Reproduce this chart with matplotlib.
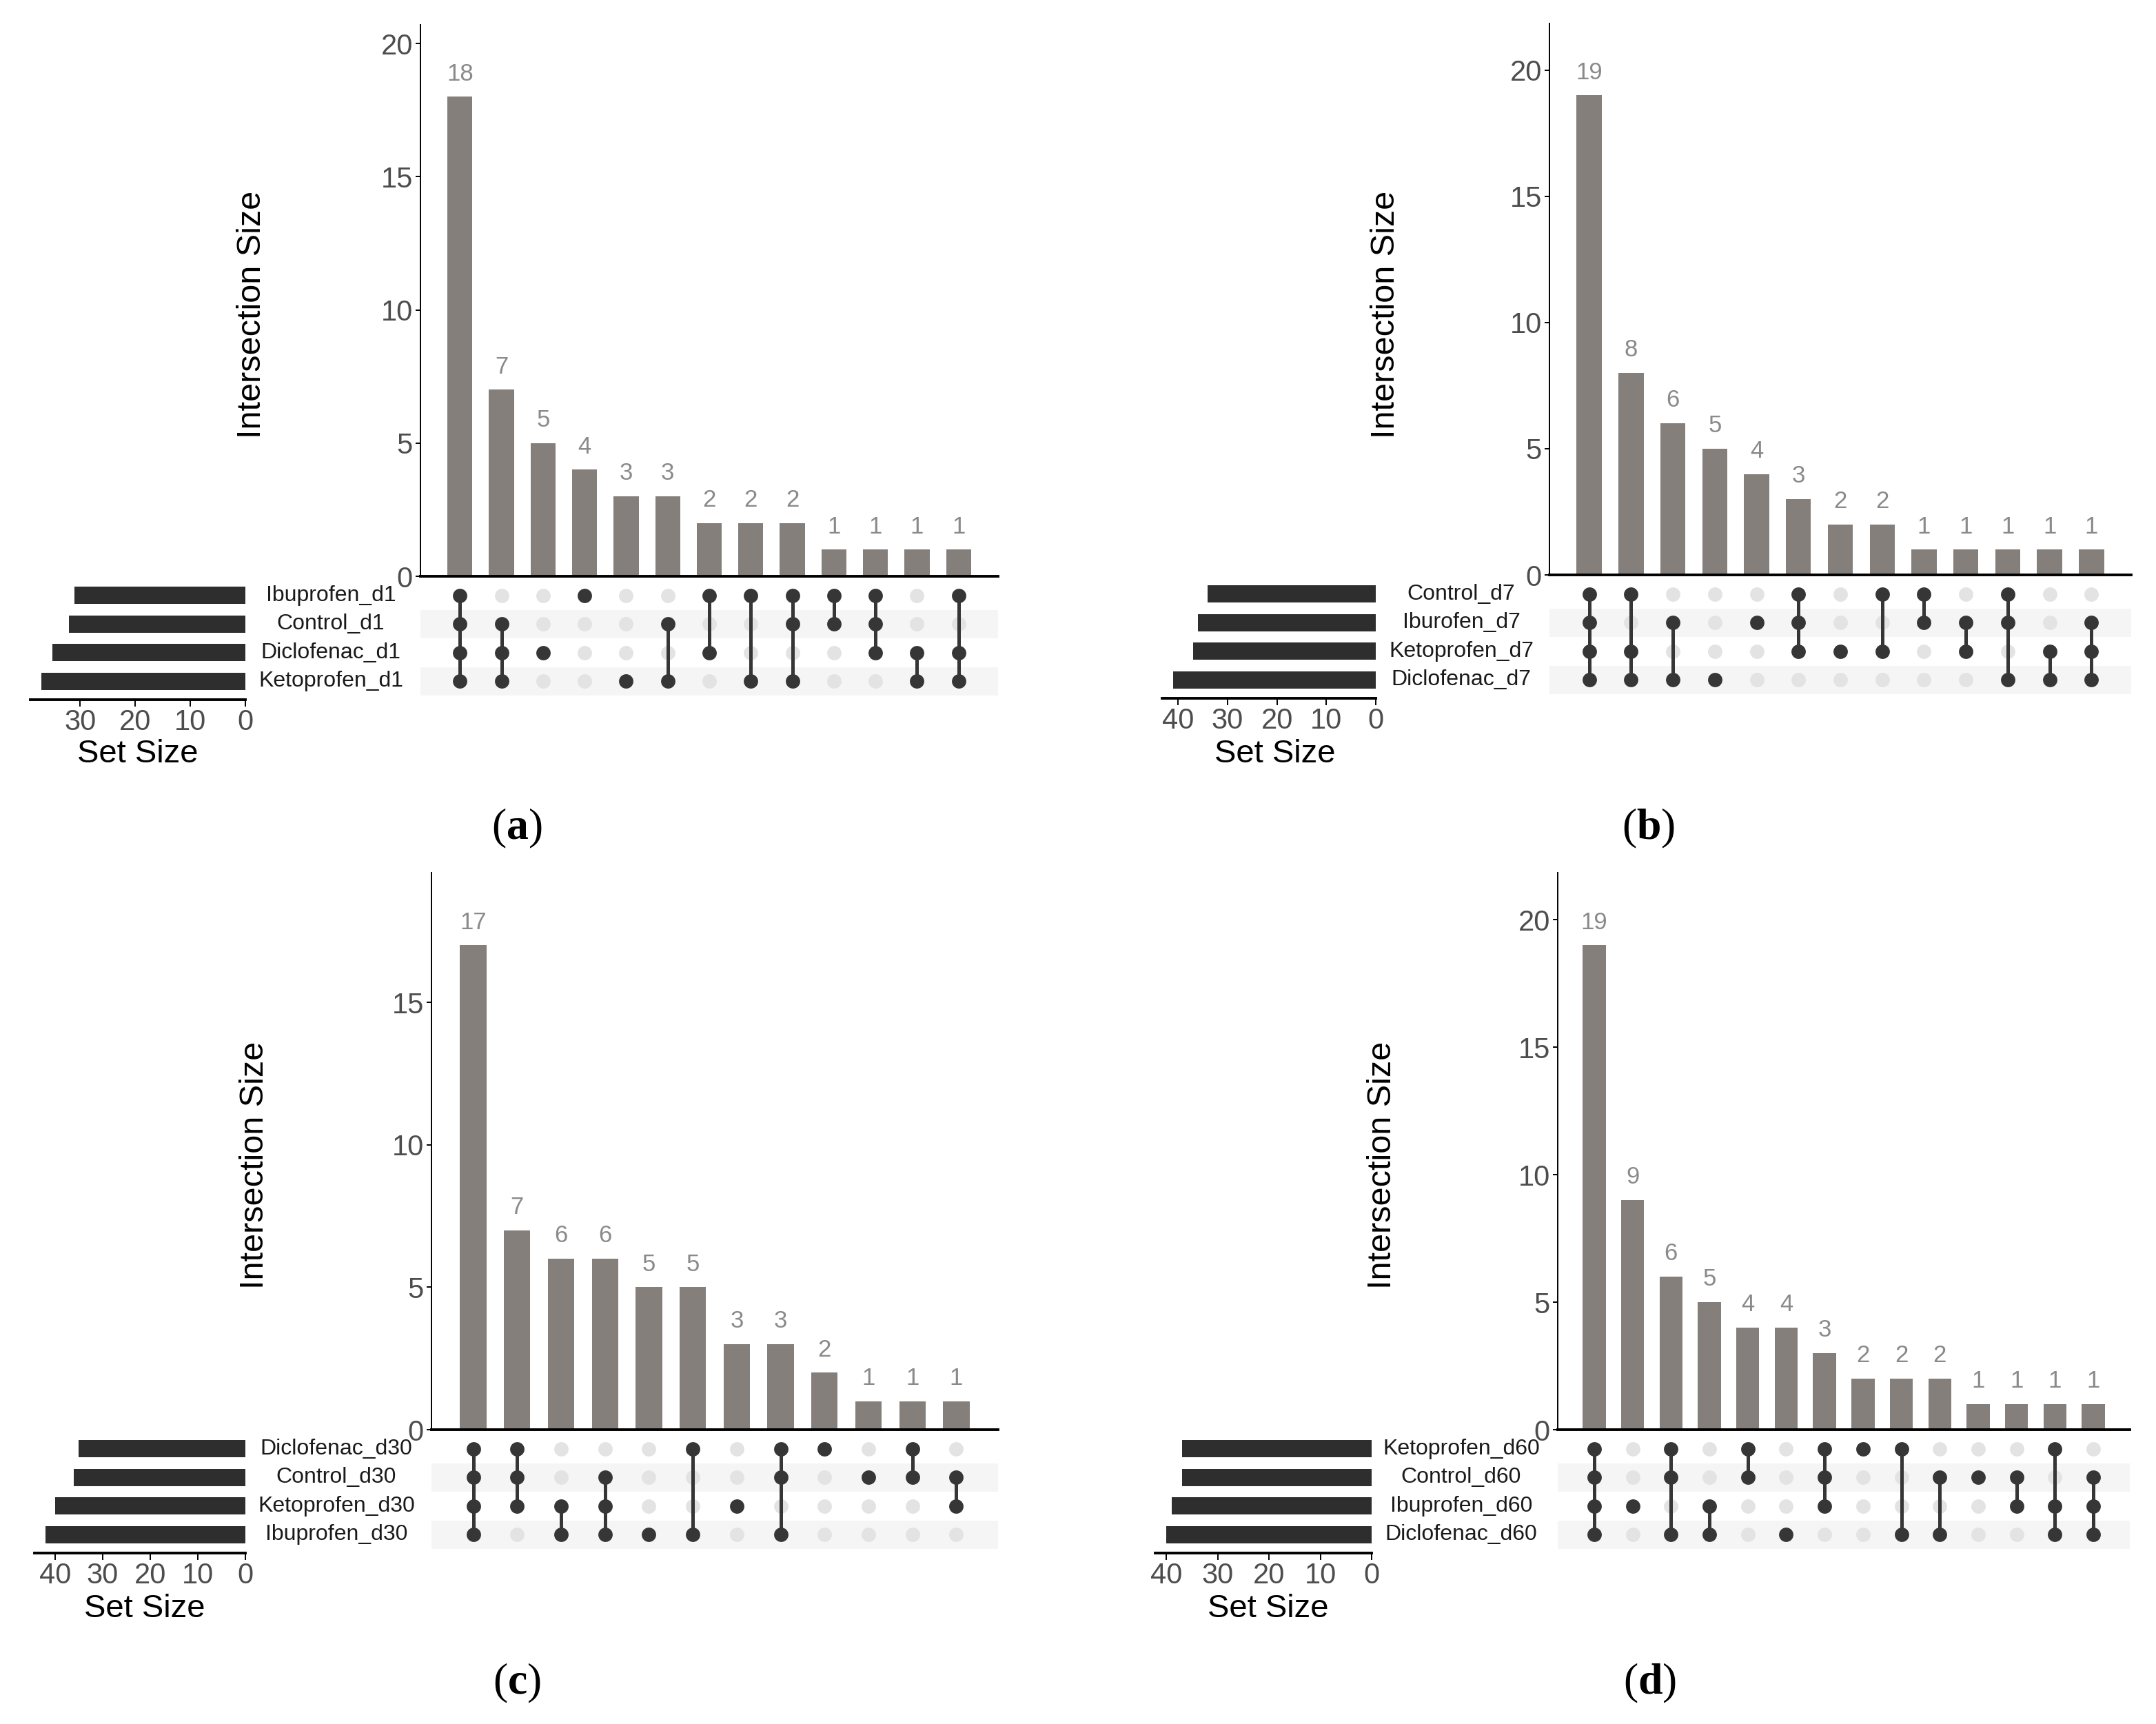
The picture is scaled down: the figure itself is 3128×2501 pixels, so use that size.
import matplotlib
matplotlib.use("Agg")
import matplotlib.pyplot as plt
import matplotlib.transforms as mtransforms

plt.rcParams['font.family'] = ['Liberation Sans', 'DejaVu Sans']
plt.rcParams['mathtext.fontset'] = 'custom'
plt.rcParams['mathtext.rm'] = 'Liberation Serif'
plt.rcParams['mathtext.bf'] = 'Liberation Serif:bold'

# ---- data ----
# set names listed top to bottom as in the matrix
sets_a = ["Ibuprofen_d1", "Control_d1", "Diclofenac_d1", "Ketoprofen_d1"]
set_sizes_a = [31, 32, 35, 37]
counts_a = [18, 7, 5, 4, 3, 3, 2, 2, 2, 1, 1, 1, 1]
members_a = [(0, 1, 2, 3), (1, 2, 3), (2,), (0,), (3,), (1, 3), (0, 2), (0, 3),
             (0, 1, 3), (0, 1), (0, 1, 2), (2, 3), (0, 2, 3)]

sets_b = ["Control_d7", "Iburofen_d7", "Ketoprofen_d7", "Diclofenac_d7"]
set_sizes_b = [34, 36, 37, 41]
counts_b = [19, 8, 6, 5, 4, 3, 2, 2, 1, 1, 1, 1, 1]
members_b = [(0, 1, 2, 3), (0, 2, 3), (1, 3), (3,), (1,), (0, 1, 2), (2,), (0, 2),
             (0, 1), (1, 2), (0, 1, 3), (2, 3), (1, 2, 3)]

sets_c = ["Diclofenac_d30", "Control_d30", "Ketoprofen_d30", "Ibuprofen_d30"]
set_sizes_c = [35, 36, 40, 42]
counts_c = [17, 7, 6, 6, 5, 5, 3, 3, 2, 1, 1, 1]
members_c = [(0, 1, 2, 3), (0, 1, 2), (2, 3), (1, 2, 3), (3,), (0, 3), (2,),
             (0, 1, 3), (0,), (1,), (0, 1), (1, 2)]

sets_d = ["Ketoprofen_d60", "Control_d60", "Ibuprofen_d60", "Diclofenac_d60"]
set_sizes_d = [37, 37, 39, 40]
counts_d = [19, 9, 6, 5, 4, 4, 3, 2, 2, 2, 1, 1, 1, 1]
members_d = [(0, 1, 2, 3), (2,), (0, 1, 3), (2, 3), (0, 1), (3,), (0, 1, 2), (0,),
             (0, 3), (1, 3), (1,), (1, 2), (0, 2, 3), (1, 2, 3)]

tags = ["a", "b", "c", "d"]

BAR_COL = "#857f7c"
DARK = "#363636"
LIGHT = "#e3e3e3"
STRIPE = "#f5f5f5"

W, H = 1564.0, 1250.5   # layout worked out on a half-size grid
fig = plt.figure(figsize=(31.28, 25.01), dpi=100)


def box(x0, y0, x1, y1):
    return [x0 / W, 1 - y1 / H, (x1 - x0) / W, (y1 - y0) / H]


def upset(sets, sizes, counts, members, tag, lay):
    n = len(counts)
    nrow = len(sets)
    xl = (-0.95, n - 1 + 0.95)

    # intersection bars
    axb = fig.add_axes(box(lay['x0'], lay['ytop'], lay['x1'], lay['ybase']))
    axb.bar(range(n), counts, width=0.6, color=BAR_COL)
    for i, c in enumerate(counts):
        axb.annotate(str(c), (i, c), xytext=(0, 24), textcoords='offset points',
                     ha='center', va='center', fontsize=25, color='#8a8a8a')
    axb.set_xlim(*xl)
    axb.set_ylim(0, max(counts) * 1.15)
    axb.set_yticks([0, 5, 10, 15, 20] if max(counts) * 1.15 >= 20 else [0, 5, 10, 15])
    axb.set_xticks([])
    for s in ['top', 'right']:
        axb.spines[s].set_visible(False)
    axb.spines['left'].set_linewidth(1.4)
    axb.spines['bottom'].set_linewidth(2.8)
    axb.tick_params(axis='y', labelsize=30, length=5, width=1.4, pad=3,
                    labelcolor='#4d4d4d')
    fig.text(lay['ylab'] / W, 1 - lay['ylab_y'] / H, "Intersection Size",
             rotation=90, ha='center', va='center', fontsize=35)

    # matrix
    m_top = lay['ybase'] + 3.5
    m_bot = m_top + 83
    axm = fig.add_axes(box(lay['x0'], m_top, lay['x1'], m_bot))
    axm.set_xlim(*xl)
    axm.set_ylim(nrow - 0.5, -0.5)
    for r in range(nrow):
        if r % 2 == 1:
            axm.axhspan(r - 0.5, r + 0.5, color=STRIPE, lw=0, zorder=0)
    for i, mem in enumerate(members):
        for r in range(nrow):
            on = r in mem
            axm.plot(i, r, 'o', ms=15, color=DARK if on else LIGHT,
                     mec='none', zorder=3 if on else 1)
        if len(mem) > 1:
            axm.plot([i, i], [min(mem), max(mem)], color=DARK, lw=3.6, zorder=2)
    axm.axis('off')

    # set names
    trans = mtransforms.blended_transform_factory(fig.transFigure, axm.transData)
    for r, name in enumerate(sets):
        axm.text(lay['name'] / W, r, name, transform=trans, ha='center',
                 va='center', fontsize=23, color='#1a1a1a')

    # set size bars
    axs = fig.add_axes(box(lay['s0'], m_top, lay['s1'], m_bot))
    axs.barh(range(nrow), sizes, height=0.6, color="#2e2e2e")
    axs.set_ylim(nrow - 0.5, -0.5)
    axs.set_xlim(max(sizes) * 1.055, 0)
    axs.set_xticks([t for t in [0, 10, 20, 30, 40] if t <= max(sizes) * 1.055])
    axs.set_yticks([])
    for s in ['top', 'right', 'left']:
        axs.spines[s].set_visible(False)
    axs.spines['bottom'].set_linewidth(2.8)
    axs.spines['bottom'].set_position(('outward', 4))
    axs.tick_params(axis='x', labelsize=30, length=7, width=1.4, pad=3,
                    labelcolor='#4d4d4d')
    fig.text(lay['sl_x'] / W, 1 - lay['sl_y'] / H, "Set Size",
             ha='center', va='center', fontsize=34)

    fig.text(lay['tag_x'] / W, 1 - lay['tag_y'] / H,
             r"$\mathrm{(}\mathbf{" + tag + r"}\mathrm{)}$",
             ha='center', va='center', fontsize=46)


layouts = [
    dict(x0=305, x1=724, ytop=18, ybase=418, s0=22, s1=178, name=240,
         ylab=183, ylab_y=228, sl_x=100, sl_y=547, tag_x=375, tag_y=601),
    dict(x0=1124, x1=1546, ytop=17, ybase=417, s0=843, s1=998, name=1060,
         ylab=1005, ylab_y=228, sl_x=925, sl_y=547, tag_x=1196, tag_y=601),
    dict(x0=313, x1=724, ytop=633, ybase=1037, s0=25, s1=178, name=244,
         ylab=185, ylab_y=845, sl_x=105, sl_y=1167, tag_x=375, tag_y=1221),
    dict(x0=1130, x1=1545, ytop=633, ybase=1037, s0=838, s1=995, name=1060,
         ylab=1003, ylab_y=845, sl_x=920, sl_y=1167, tag_x=1197, tag_y=1221),
]

panels = [
    (sets_a, set_sizes_a, counts_a, members_a),
    (sets_b, set_sizes_b, counts_b, members_b),
    (sets_c, set_sizes_c, counts_c, members_c),
    (sets_d, set_sizes_d, counts_d, members_d),
]

for (s, sz, c, m), tag, lay in zip(panels, tags, layouts):
    upset(s, sz, c, m, tag, lay)

fig.savefig("out.png", dpi=100, facecolor='white')
